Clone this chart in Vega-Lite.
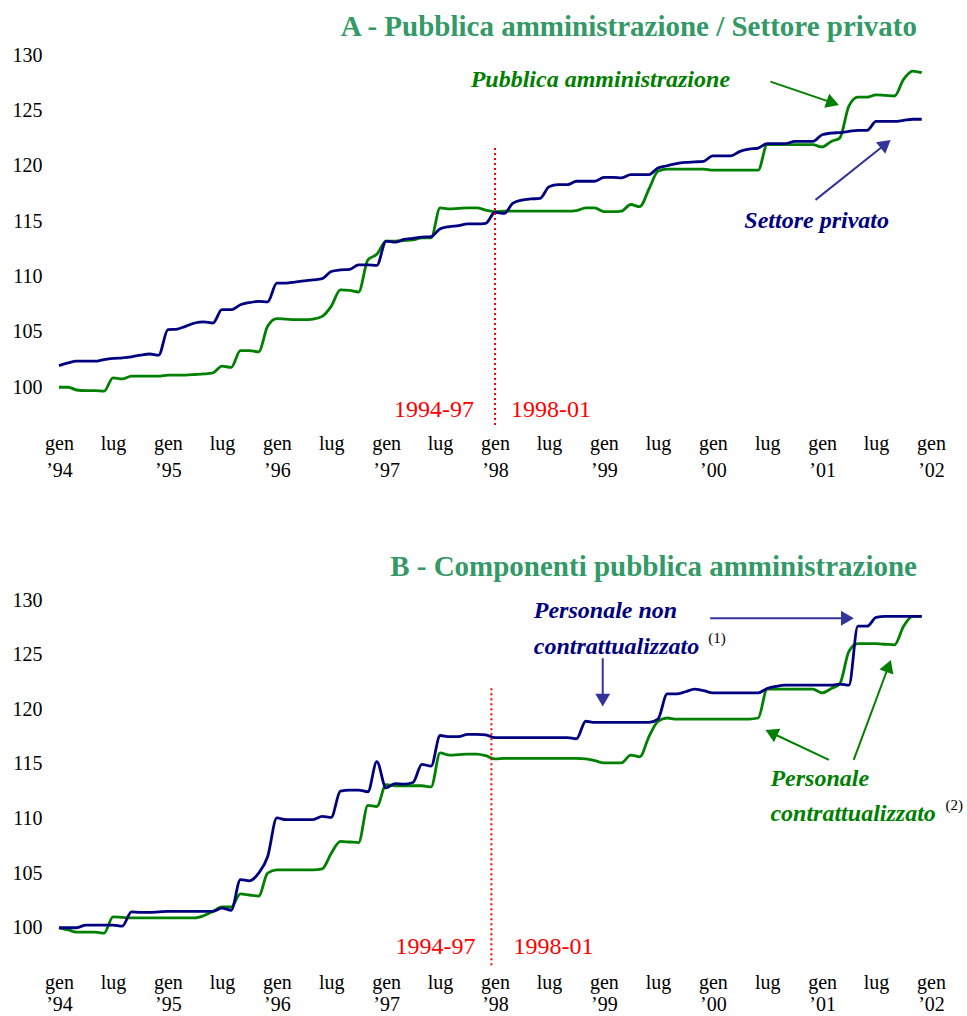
{
  "$schema": "https://vega.github.io/schema/vega-lite/v6.json",
  "padding": {"left": 12, "top": 13, "right": 0, "bottom": 0},
  "background": "white",
  "spacing": 73,
  "config": {
    "view": {"stroke": null},
    "font": "Liberation Serif",
    "axis": {"grid": false, "domain": false, "ticks": false, "tickSize": 0, "labelFont": "Liberation Serif", "labelFontSize": 20, "labelColor": "black", "title": null},
    "title": {"font": "Liberation Serif", "fontSize": 29, "fontWeight": "bold", "color": "#339966", "anchor": "end", "frame": "group"}
  },
  "datasets": {
    "s": [
      {"d": "1994-01-01", "pa": 100.0, "sp": 101.95, "pc": 100.0, "pnc": 100.0},
      {"d": "1994-02-01", "pa": 100.0, "sp": 102.2, "pc": 99.8, "pnc": 100.0},
      {"d": "1994-03-01", "pa": 99.75, "sp": 102.35, "pc": 99.6, "pnc": 100.0},
      {"d": "1994-04-01", "pa": 99.7, "sp": 102.35, "pc": 99.6, "pnc": 100.25},
      {"d": "1994-05-01", "pa": 99.7, "sp": 102.35, "pc": 99.6, "pnc": 100.25},
      {"d": "1994-06-01", "pa": 99.65, "sp": 102.5, "pc": 99.5, "pnc": 100.25},
      {"d": "1994-07-01", "pa": 100.85, "sp": 102.6, "pc": 101.0, "pnc": 100.25},
      {"d": "1994-08-01", "pa": 100.75, "sp": 102.65, "pc": 100.95, "pnc": 100.15},
      {"d": "1994-09-01", "pa": 101.0, "sp": 102.75, "pc": 100.9, "pnc": 101.45},
      {"d": "1994-10-01", "pa": 101.0, "sp": 102.9, "pc": 100.9, "pnc": 101.4},
      {"d": "1994-11-01", "pa": 101.0, "sp": 103.0, "pc": 100.9, "pnc": 101.4},
      {"d": "1994-12-01", "pa": 101.0, "sp": 102.9, "pc": 100.9, "pnc": 101.45},
      {"d": "1995-01-01", "pa": 101.1, "sp": 105.2, "pc": 100.9, "pnc": 101.5},
      {"d": "1995-02-01", "pa": 101.1, "sp": 105.25, "pc": 100.9, "pnc": 101.5},
      {"d": "1995-03-01", "pa": 101.1, "sp": 105.5, "pc": 100.9, "pnc": 101.5},
      {"d": "1995-04-01", "pa": 101.15, "sp": 105.8, "pc": 100.9, "pnc": 101.5},
      {"d": "1995-05-01", "pa": 101.2, "sp": 105.9, "pc": 101.1, "pnc": 101.5},
      {"d": "1995-06-01", "pa": 101.3, "sp": 105.8, "pc": 101.5, "pnc": 101.5},
      {"d": "1995-07-01", "pa": 101.9, "sp": 107.0, "pc": 101.9, "pnc": 101.8},
      {"d": "1995-08-01", "pa": 101.8, "sp": 107.0, "pc": 101.9, "pnc": 101.6},
      {"d": "1995-09-01", "pa": 103.3, "sp": 107.45, "pc": 103.1, "pnc": 104.4},
      {"d": "1995-10-01", "pa": 103.3, "sp": 107.65, "pc": 103.0, "pnc": 104.3},
      {"d": "1995-11-01", "pa": 103.2, "sp": 107.75, "pc": 102.9, "pnc": 105.0},
      {"d": "1995-12-01", "pa": 105.5, "sp": 107.7, "pc": 105.0, "pnc": 106.5},
      {"d": "1996-01-01", "pa": 106.2, "sp": 109.4, "pc": 105.3, "pnc": 110.05},
      {"d": "1996-02-01", "pa": 106.15, "sp": 109.4, "pc": 105.3, "pnc": 109.9},
      {"d": "1996-03-01", "pa": 106.1, "sp": 109.5, "pc": 105.3, "pnc": 109.9},
      {"d": "1996-04-01", "pa": 106.1, "sp": 109.6, "pc": 105.3, "pnc": 109.9},
      {"d": "1996-05-01", "pa": 106.15, "sp": 109.7, "pc": 105.3, "pnc": 109.9},
      {"d": "1996-06-01", "pa": 106.4, "sp": 109.8, "pc": 105.4, "pnc": 110.2},
      {"d": "1996-07-01", "pa": 107.3, "sp": 110.45, "pc": 106.8, "pnc": 110.1},
      {"d": "1996-08-01", "pa": 108.8, "sp": 110.6, "pc": 107.9, "pnc": 112.5},
      {"d": "1996-09-01", "pa": 108.75, "sp": 110.65, "pc": 107.85, "pnc": 112.6},
      {"d": "1996-10-01", "pa": 108.6, "sp": 111.05, "pc": 107.8, "pnc": 112.6},
      {"d": "1996-11-01", "pa": 111.5, "sp": 111.05, "pc": 111.2, "pnc": 112.45},
      {"d": "1996-12-01", "pa": 112.0, "sp": 111.0, "pc": 111.1, "pnc": 115.2},
      {"d": "1997-01-01", "pa": 113.2, "sp": 113.2, "pc": 113.1, "pnc": 112.8},
      {"d": "1997-02-01", "pa": 113.2, "sp": 113.1, "pc": 113.0, "pnc": 113.2},
      {"d": "1997-03-01", "pa": 113.25, "sp": 113.35, "pc": 113.0, "pnc": 113.15},
      {"d": "1997-04-01", "pa": 113.3, "sp": 113.45, "pc": 113.0, "pnc": 113.3},
      {"d": "1997-05-01", "pa": 113.5, "sp": 113.55, "pc": 113.0, "pnc": 114.95},
      {"d": "1997-06-01", "pa": 113.5, "sp": 113.6, "pc": 112.9, "pnc": 114.8},
      {"d": "1997-07-01", "pa": 116.2, "sp": 114.3, "pc": 116.0, "pnc": 117.6},
      {"d": "1997-08-01", "pa": 116.1, "sp": 114.5, "pc": 115.8, "pnc": 117.5},
      {"d": "1997-09-01", "pa": 116.15, "sp": 114.6, "pc": 115.85, "pnc": 117.5},
      {"d": "1997-10-01", "pa": 116.2, "sp": 114.75, "pc": 115.9, "pnc": 117.7},
      {"d": "1997-11-01", "pa": 116.2, "sp": 114.75, "pc": 115.9, "pnc": 117.7},
      {"d": "1997-12-01", "pa": 116.0, "sp": 114.8, "pc": 115.75, "pnc": 117.65},
      {"d": "1998-01-01", "pa": 115.85, "sp": 115.8, "pc": 115.45, "pnc": 117.4},
      {"d": "1998-02-01", "pa": 115.9, "sp": 115.7, "pc": 115.5, "pnc": 117.4},
      {"d": "1998-03-01", "pa": 115.9, "sp": 116.6, "pc": 115.5, "pnc": 117.4},
      {"d": "1998-04-01", "pa": 115.9, "sp": 116.9, "pc": 115.5, "pnc": 117.4},
      {"d": "1998-05-01", "pa": 115.9, "sp": 117.0, "pc": 115.5, "pnc": 117.4},
      {"d": "1998-06-01", "pa": 115.9, "sp": 117.05, "pc": 115.5, "pnc": 117.4},
      {"d": "1998-07-01", "pa": 115.9, "sp": 118.1, "pc": 115.5, "pnc": 117.4},
      {"d": "1998-08-01", "pa": 115.9, "sp": 118.3, "pc": 115.5, "pnc": 117.4},
      {"d": "1998-09-01", "pa": 115.9, "sp": 118.3, "pc": 115.5, "pnc": 117.4},
      {"d": "1998-10-01", "pa": 115.95, "sp": 118.6, "pc": 115.5, "pnc": 117.3},
      {"d": "1998-11-01", "pa": 116.2, "sp": 118.6, "pc": 115.45, "pnc": 118.9},
      {"d": "1998-12-01", "pa": 116.2, "sp": 118.6, "pc": 115.3, "pnc": 118.8},
      {"d": "1999-01-01", "pa": 115.85, "sp": 118.95, "pc": 115.1, "pnc": 118.8},
      {"d": "1999-02-01", "pa": 115.85, "sp": 118.95, "pc": 115.1, "pnc": 118.8},
      {"d": "1999-03-01", "pa": 115.9, "sp": 118.9, "pc": 115.1, "pnc": 118.8},
      {"d": "1999-04-01", "pa": 116.5, "sp": 119.2, "pc": 115.8, "pnc": 118.8},
      {"d": "1999-05-01", "pa": 116.3, "sp": 119.2, "pc": 115.65, "pnc": 118.8},
      {"d": "1999-06-01", "pa": 117.9, "sp": 119.2, "pc": 117.5, "pnc": 118.8},
      {"d": "1999-07-01", "pa": 119.5, "sp": 119.8, "pc": 118.9, "pnc": 119.1},
      {"d": "1999-08-01", "pa": 119.7, "sp": 120.0, "pc": 119.2, "pnc": 121.4},
      {"d": "1999-09-01", "pa": 119.7, "sp": 120.2, "pc": 119.1, "pnc": 121.4},
      {"d": "1999-10-01", "pa": 119.7, "sp": 120.3, "pc": 119.1, "pnc": 121.6},
      {"d": "1999-11-01", "pa": 119.7, "sp": 120.35, "pc": 119.1, "pnc": 121.85},
      {"d": "1999-12-01", "pa": 119.7, "sp": 120.4, "pc": 119.1, "pnc": 121.7},
      {"d": "2000-01-01", "pa": 119.6, "sp": 120.9, "pc": 119.1, "pnc": 121.5},
      {"d": "2000-02-01", "pa": 119.6, "sp": 120.9, "pc": 119.1, "pnc": 121.5},
      {"d": "2000-03-01", "pa": 119.6, "sp": 120.9, "pc": 119.1, "pnc": 121.5},
      {"d": "2000-04-01", "pa": 119.6, "sp": 121.3, "pc": 119.1, "pnc": 121.5},
      {"d": "2000-05-01", "pa": 119.6, "sp": 121.5, "pc": 119.1, "pnc": 121.5},
      {"d": "2000-06-01", "pa": 119.6, "sp": 121.6, "pc": 119.2, "pnc": 121.5},
      {"d": "2000-07-01", "pa": 121.9, "sp": 122.0, "pc": 121.85, "pnc": 121.9},
      {"d": "2000-08-01", "pa": 121.9, "sp": 122.0, "pc": 121.85, "pnc": 122.1},
      {"d": "2000-09-01", "pa": 121.9, "sp": 122.0, "pc": 121.85, "pnc": 122.2},
      {"d": "2000-10-01", "pa": 121.9, "sp": 122.2, "pc": 121.85, "pnc": 122.2},
      {"d": "2000-11-01", "pa": 121.9, "sp": 122.2, "pc": 121.85, "pnc": 122.2},
      {"d": "2000-12-01", "pa": 121.9, "sp": 122.2, "pc": 121.85, "pnc": 122.2},
      {"d": "2001-01-01", "pa": 121.7, "sp": 122.8, "pc": 121.5, "pnc": 122.2},
      {"d": "2001-02-01", "pa": 122.2, "sp": 122.95, "pc": 121.9, "pnc": 122.2},
      {"d": "2001-03-01", "pa": 122.5, "sp": 123.0, "pc": 122.3, "pnc": 122.3},
      {"d": "2001-04-01", "pa": 125.4, "sp": 123.1, "pc": 125.3, "pnc": 122.2},
      {"d": "2001-05-01", "pa": 126.2, "sp": 123.2, "pc": 126.0, "pnc": 127.6},
      {"d": "2001-06-01", "pa": 126.2, "sp": 123.2, "pc": 126.0, "pnc": 127.6},
      {"d": "2001-07-01", "pa": 126.4, "sp": 124.0, "pc": 126.0, "pnc": 128.4},
      {"d": "2001-08-01", "pa": 126.35, "sp": 124.0, "pc": 125.95, "pnc": 128.5},
      {"d": "2001-09-01", "pa": 126.3, "sp": 124.0, "pc": 125.9, "pnc": 128.5},
      {"d": "2001-10-01", "pa": 127.8, "sp": 124.1, "pc": 127.6, "pnc": 128.5},
      {"d": "2001-11-01", "pa": 128.55, "sp": 124.2, "pc": 128.5, "pnc": 128.5},
      {"d": "2001-12-01", "pa": 128.4, "sp": 124.2, "pc": 128.5, "pnc": 128.5}
    ]
  },
  "vconcat": [
    {
      "title": {"text": "A - Pubblica amministrazione / Settore privato", "dx": -14, "offset": 3},
      "width": 872,
      "height": 371,
      "layer": [
        {
          "data": {"name": "s"},
          "transform": [{"fold": ["pa", "sp"], "as": ["serie", "v"]}],
          "mark": {"type": "line", "interpolate": "monotone", "strokeWidth": 2.8},
          "encoding": {
            "x": {"field": "d", "type": "temporal",
              "scale": {"type": "utc", "domain": [{"year": 1994, "month": 1, "date": 1, "utc": true}, {"year": 2002, "month": 1, "date": 1, "utc": true}]},
              "axis": {"tickCount": {"interval": "month", "step": 6}, "labelExpr": "utcmonth(datum.value) == 0 ? ['gen', '’' + utcFormat(datum.value, '%y')] : 'lug'", "labelPadding": 7, "labelBaseline": "top", "labelLineHeight": 27, "labelFlush": false, "labelOverlap": false, "labelAlign": "center"}},
            "y": {"field": "v", "type": "quantitative", "scale": {"domain": [96.5, 130], "zero": false, "nice": false},
              "axis": {"values": [100, 105, 110, 115, 120, 125, 130], "labelPadding": 17}},
            "color": {"field": "serie", "type": "nominal", "scale": {"domain": ["pa", "sp"], "range": ["#008000", "#000080"]}, "legend": null}
          }
        },
        {
          "data": {"values": [{"d": "1998-01-01", "v1": 121.6, "v2": 96.5}]},
          "mark": {"type": "rule", "color": "#ff0000", "strokeWidth": 2, "strokeDash": [2, 3]},
          "encoding": {"x": {"field": "d", "type": "temporal"}, "y": {"field": "v1", "type": "quantitative"}, "y2": {"field": "v2"}}
        },
        {
          "data": {"values": [{"d": "1998-01-01", "v": 97.93, "t": "1994-97"}]},
          "mark": {"type": "text", "align": "right", "baseline": "middle", "dx": -21, "fontSize": 24, "color": "#ff0000"},
          "encoding": {"x": {"field": "d", "type": "temporal"}, "y": {"field": "v", "type": "quantitative"}, "text": {"field": "t"}}
        },
        {
          "data": {"values": [{"d": "1998-01-01", "v": 97.93, "t": "1998-01"}]},
          "mark": {"type": "text", "align": "left", "baseline": "middle", "dx": 16, "fontSize": 24, "color": "#ff0000"},
          "encoding": {"x": {"field": "d", "type": "temporal"}, "y": {"field": "v", "type": "quantitative"}, "text": {"field": "t"}}
        },
        {
          "data": {"values": [{"d": "1998-12-20", "v": 127.72, "t": "Pubblica amministrazione"}]},
          "mark": {"type": "text", "align": "center", "baseline": "middle", "fontSize": 24, "fontWeight": "bold", "fontStyle": "italic", "color": "#008000"},
          "encoding": {"x": {"field": "d", "type": "temporal"}, "y": {"field": "v", "type": "quantitative"}, "text": {"field": "t"}}
        },
        {
          "data": {"values": [{"d": "2000-12-14", "v": 115.03, "t": "Settore privato"}]},
          "mark": {"type": "text", "align": "center", "baseline": "middle", "fontSize": 24, "fontWeight": "bold", "fontStyle": "italic", "color": "#000080"},
          "encoding": {"x": {"field": "d", "type": "temporal"}, "y": {"field": "v", "type": "quantitative"}, "text": {"field": "t"}}
        },
        {
          "data": {"values": [{"d1": "2000-07-12", "v1": 127.6, "d2": "2001-02-06", "v2": 125.68}]},
          "mark": {"type": "rule", "color": "#008000", "strokeWidth": 2},
          "encoding": {"x": {"field": "d1", "type": "temporal"}, "y": {"field": "v1", "type": "quantitative"}, "x2": {"field": "d2"}, "y2": {"field": "v2"}}
        },
        {
          "data": {"values": [{"d": "2001-02-06", "v": 125.68}]},
          "mark": {"type": "point", "shape": "triangle-up", "filled": true, "opacity": 1, "size": 220, "angle": 109, "color": "#008000"},
          "encoding": {"x": {"field": "d", "type": "temporal"}, "y": {"field": "v", "type": "quantitative"}}
        },
        {
          "data": {"values": [{"d1": "2000-12-10", "v1": 116.92, "d2": "2001-08-02", "v2": 121.96}]},
          "mark": {"type": "rule", "color": "#333399", "strokeWidth": 2},
          "encoding": {"x": {"field": "d1", "type": "temporal"}, "y": {"field": "v1", "type": "quantitative"}, "x2": {"field": "d2"}, "y2": {"field": "v2"}}
        },
        {
          "data": {"values": [{"d": "2001-08-02", "v": 121.96}]},
          "mark": {"type": "point", "shape": "triangle-up", "filled": true, "opacity": 1, "size": 220, "angle": 51, "color": "#333399"},
          "encoding": {"x": {"field": "d", "type": "temporal"}, "y": {"field": "v", "type": "quantitative"}}
        }
      ]
    },
    {
      "title": {"text": "B - Componenti pubblica amministrazione", "dx": -14, "offset": 8},
      "width": 872,
      "height": 366,
      "layer": [
        {
          "data": {"name": "s"},
          "transform": [{"fold": ["pc", "pnc"], "as": ["serie", "v"]}],
          "mark": {"type": "line", "interpolate": "monotone", "strokeWidth": 2.8},
          "encoding": {
            "x": {"field": "d", "type": "temporal",
              "scale": {"type": "utc", "domain": [{"year": 1994, "month": 1, "date": 1, "utc": true}, {"year": 2002, "month": 1, "date": 1, "utc": true}]},
              "axis": {"tickCount": {"interval": "month", "step": 6}, "labelExpr": "utcmonth(datum.value) == 0 ? ['gen', '’' + utcFormat(datum.value, '%y')] : 'lug'", "labelPadding": 6, "labelBaseline": "top", "labelLineHeight": 22, "labelFlush": false, "labelOverlap": false, "labelAlign": "center"}},
            "y": {"field": "v", "type": "quantitative", "scale": {"domain": [96.5, 130], "zero": false, "nice": false},
              "axis": {"values": [100, 105, 110, 115, 120, 125, 130], "labelPadding": 17}},
            "color": {"field": "serie", "type": "nominal", "scale": {"domain": ["pc", "pnc"], "range": ["#008000", "#000080"]}, "legend": null}
          }
        },
        {
          "data": {"values": [{"d": "1997-12-20", "v1": 121.92, "v2": 96.5}]},
          "mark": {"type": "rule", "color": "#ff0000", "strokeWidth": 2, "strokeDash": [2, 3]},
          "encoding": {"x": {"field": "d", "type": "temporal"}, "y": {"field": "v1", "type": "quantitative"}, "y2": {"field": "v2"}}
        },
        {
          "data": {"values": [{"d": "1997-12-20", "v": 98.2, "t": "1994-97"}]},
          "mark": {"type": "text", "align": "right", "baseline": "middle", "dx": -16, "fontSize": 24, "color": "#ff0000"},
          "encoding": {"x": {"field": "d", "type": "temporal"}, "y": {"field": "v", "type": "quantitative"}, "text": {"field": "t"}}
        },
        {
          "data": {"values": [{"d": "1997-12-20", "v": 98.2, "t": "1998-01"}]},
          "mark": {"type": "text", "align": "left", "baseline": "middle", "dx": 22, "fontSize": 24, "color": "#ff0000"},
          "encoding": {"x": {"field": "d", "type": "temporal"}, "y": {"field": "v", "type": "quantitative"}, "text": {"field": "t"}}
        },
        {
          "data": {"values": [{"d": "1998-05-11", "v": 129.0, "t": "Personale non"}, {"d": "1998-05-11", "v": 125.73, "t": "contrattualizzato"}]},
          "mark": {"type": "text", "align": "left", "baseline": "middle", "fontSize": 24, "fontWeight": "bold", "fontStyle": "italic", "color": "#000080"},
          "encoding": {"x": {"field": "d", "type": "temporal"}, "y": {"field": "v", "type": "quantitative"}, "text": {"field": "t"}}
        },
        {
          "data": {"values": [{"d": "2000-07-12", "v": 113.59, "t": "Personale"}, {"d": "2000-07-12", "v": 110.38, "t": "contrattualizzato"}]},
          "mark": {"type": "text", "align": "left", "baseline": "middle", "fontSize": 24, "fontWeight": "bold", "fontStyle": "italic", "color": "#008000"},
          "encoding": {"x": {"field": "d", "type": "temporal"}, "y": {"field": "v", "type": "quantitative"}, "text": {"field": "t"}}
        },
        {
          "data": {"values": [{"d": "1999-12-17", "v": 126.56, "t": "(1)"}, {"d": "2002-02-19", "v": 111.24, "t": "(2)"}]},
          "mark": {"type": "text", "align": "left", "baseline": "middle", "fontSize": 15, "color": "black"},
          "encoding": {"x": {"field": "d", "type": "temporal"}, "y": {"field": "v", "type": "quantitative"}, "text": {"field": "t"}}
        },
        {
          "data": {"values": [{"d1": "1999-12-23", "v1": 128.33, "d2": "2001-03-27", "v2": 128.33}, {"d1": "1998-12-28", "v1": 124.67, "d2": "1998-12-28", "v2": 120.83}]},
          "mark": {"type": "rule", "color": "#333399", "strokeWidth": 2},
          "encoding": {"x": {"field": "d1", "type": "temporal"}, "y": {"field": "v1", "type": "quantitative"}, "x2": {"field": "d2"}, "y2": {"field": "v2"}}
        },
        {
          "data": {"values": [{"d": "2001-03-27", "v": 128.33}]},
          "mark": {"type": "point", "shape": "triangle-up", "filled": true, "opacity": 1, "size": 220, "angle": 90, "color": "#333399"},
          "encoding": {"x": {"field": "d", "type": "temporal"}, "y": {"field": "v", "type": "quantitative"}}
        },
        {
          "data": {"values": [{"d": "1998-12-28", "v": 120.83}]},
          "mark": {"type": "point", "shape": "triangle-up", "filled": true, "opacity": 1, "size": 220, "angle": 180, "color": "#333399"},
          "encoding": {"x": {"field": "d", "type": "temporal"}, "y": {"field": "v", "type": "quantitative"}}
        },
        {
          "data": {"values": [{"d1": "2001-01-24", "v1": 115.36, "d2": "2000-07-15", "v2": 117.85}, {"d1": "2001-04-17", "v1": 115.36, "d2": "2001-08-12", "v2": 123.96}]},
          "mark": {"type": "rule", "color": "#008000", "strokeWidth": 2},
          "encoding": {"x": {"field": "d1", "type": "temporal"}, "y": {"field": "v1", "type": "quantitative"}, "x2": {"field": "d2"}, "y2": {"field": "v2"}}
        },
        {
          "data": {"values": [{"d": "2000-07-15", "v": 117.85}]},
          "mark": {"type": "point", "shape": "triangle-up", "filled": true, "opacity": 1, "size": 220, "angle": 295, "color": "#008000"},
          "encoding": {"x": {"field": "d", "type": "temporal"}, "y": {"field": "v", "type": "quantitative"}}
        },
        {
          "data": {"values": [{"d": "2001-08-12", "v": 123.96}]},
          "mark": {"type": "point", "shape": "triangle-up", "filled": true, "opacity": 1, "size": 220, "angle": 20, "color": "#008000"},
          "encoding": {"x": {"field": "d", "type": "temporal"}, "y": {"field": "v", "type": "quantitative"}}
        }
      ]
    }
  ]
}
